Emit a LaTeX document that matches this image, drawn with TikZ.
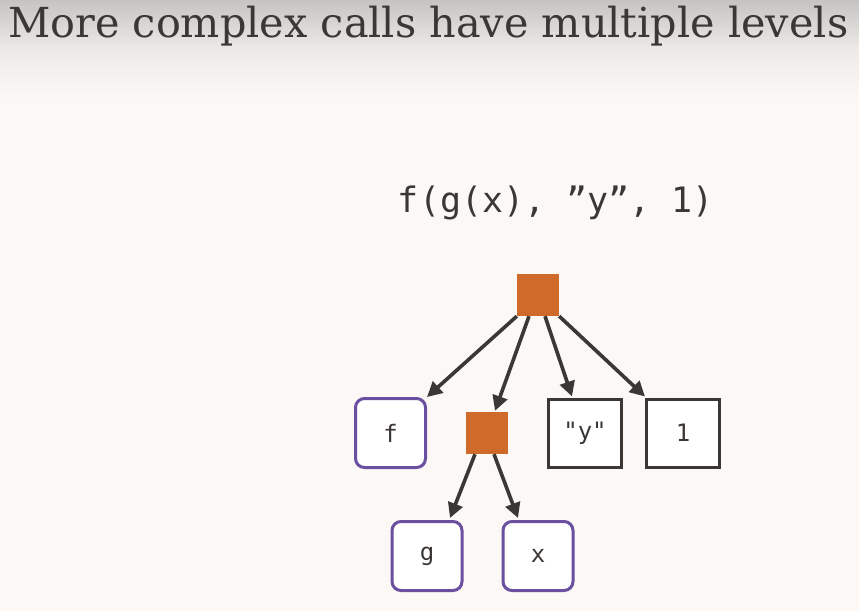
\documentclass[tikz,border=0pt]{standalone}
\usepackage{fontspec}
\usepackage{graphicx}
\setmainfont{DejaVu Serif}
\newfontfamily\codefont{DejaVu Sans Mono}
\usetikzlibrary{arrows.meta,calc}
\definecolor{bgc}{HTML}{FBF8F5}
\definecolor{topgray}{HTML}{C6C4C2}
\definecolor{midgray}{HTML}{EDEAE7}
\definecolor{inkc}{HTML}{3B3735}
\definecolor{orangec}{HTML}{D06A2B}
\definecolor{purplec}{HTML}{6B4FA0}
\tikzset{
  callsq/.style={fill=orangec,draw=none,minimum width=42pt,minimum height=42pt,inner sep=0pt},
  fnbox/.style={draw=purplec,fill=white,line width=3pt,rounded corners=9pt,minimum width=70pt,minimum height=69pt,inner sep=0pt,font=\codefont\fontsize{24}{28}\selectfont,text=inkc},
  valbox/.style={draw=inkc,fill=white,line width=3pt,minimum width=73pt,minimum height=68pt,inner sep=0pt,font=\codefont\fontsize{24}{28}\selectfont,text=inkc},
  link/.style={draw=inkc,line width=3.6pt,-{Triangle[length=15pt,width=15pt]}}
}
\begin{document}
\begin{tikzpicture}[x=1pt,y=-1pt]
\useasboundingbox (0,0) rectangle (859,611);
\fill[bgc] (0,0) rectangle (859,611);
\shade[top color=topgray,bottom color=midgray] (0,0) rectangle (859,50);
\shade[top color=midgray,bottom color=bgc] (0,50) rectangle (859,100);
\node[anchor=base west,inner sep=0pt,text=inkc] (title) at (8,37)
  {\resizebox{840pt}{!}{\fontsize{36}{40}\selectfont More complex calls have multiple levels}};
\node[anchor=base,inner sep=0pt,text=inkc,font=\codefont\fontsize{35}{40}\selectfont] (code) at (556,212) {f(g(x), ”y”, 1)};
\node[callsq] (root) at (538,295) {};
\node[fnbox] (f) at (390.5,433) {f};
\node[callsq] (sub) at (486.5,433) {};
\node[valbox] (y) at (585,433) {"y"};
\node[valbox] (one) at (683,433) {1};
\node[fnbox] (g) at (427,556) {g};
\node[fnbox] (x) at (538,556) {x};
\draw[link] (root.south west) -- (f.north east);
\draw[link] ([xshift=-9pt]root.south) -- ([xshift=8.5pt,yshift=1pt]sub.north);
\draw[link] ([xshift=7pt]root.south) -- ([xshift=25pt,yshift=1pt]y.north west);
\draw[link] (root.south east) -- ([yshift=1pt]one.north west);
\draw[link] ([xshift=-11.5pt]sub.south) -- ([xshift=23pt,yshift=2pt]g.north);
\draw[link] ([xshift=7.5pt]sub.south) -- ([xshift=-20pt,yshift=2pt]x.north);
\end{tikzpicture}
\end{document}
